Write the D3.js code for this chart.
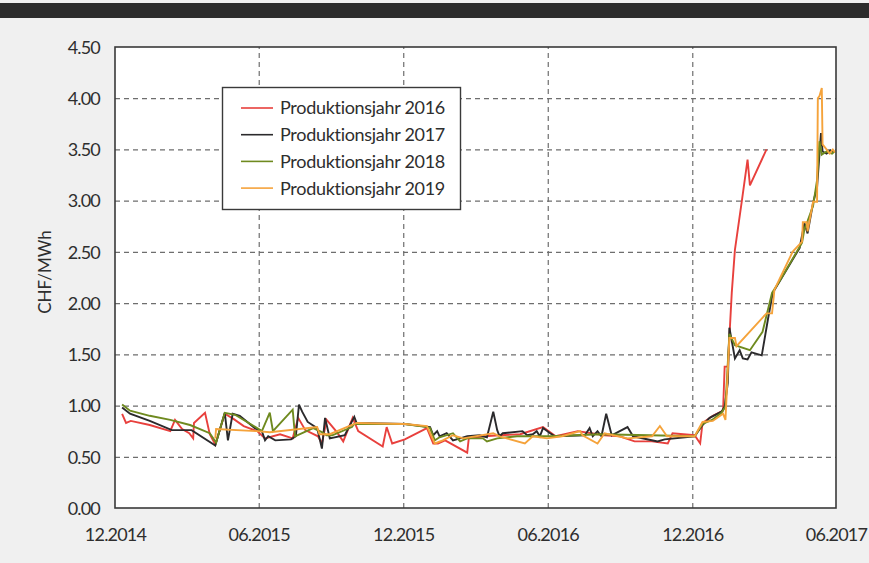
<!DOCTYPE html>
<html><head><meta charset="utf-8">
<script src="https://cdn.jsdelivr.net/npm/d3@7"></script>
<style>
html,body{margin:0;padding:0;background:#efefef;}
svg{display:block;}
text{font-family:Lato,"Noto Sans",sans-serif;fill:#2e2e2e;}
</style></head>
<body><svg id="c" width="869" height="563"></svg>
<script>
const yTicks = [0, 0.5, 1, 1.5, 2, 2.5, 3, 3.5, 4, 4.5];
const xTickDates = ["2014-12-01","2015-06-01","2015-12-01","2016-06-01","2016-12-01","2017-06-01"];
const seriesNames = ["Produktionsjahr 2016","Produktionsjahr 2017","Produktionsjahr 2018","Produktionsjahr 2019"];
const seriesColors = ["#e8403d","#2b2a2c","#6f8a1f","#f5a33b"];

const p2016 = [
["2014-12-10",0.92],["2014-12-15",0.83],["2014-12-21",0.85],["2015-01-14",0.81],["2015-02-09",0.75],["2015-02-15",0.86],
["2015-02-24",0.77],["2015-03-05",0.73],["2015-03-10",0.68],["2015-03-11",0.83],["2015-03-25",0.93],["2015-03-31",0.72],
["2015-04-07",0.62],["2015-04-19",0.92],["2015-04-30",0.87],["2015-05-13",0.80],["2015-05-30",0.75],["2015-06-09",0.68],
["2015-06-28",0.72],["2015-07-14",0.68],["2015-07-21",0.88],["2015-07-30",0.76],["2015-08-15",0.70],["2015-08-20",0.63],
["2015-08-26",0.86],["2015-09-08",0.74],["2015-09-16",0.65],["2015-09-28",0.88],["2015-10-05",0.75],["2015-11-05",0.60],
["2015-11-10",0.79],["2015-11-17",0.63],["2015-12-03",0.67],["2015-12-31",0.78],["2016-01-08",0.63],["2016-01-14",0.63],
["2016-01-23",0.66],["2016-02-20",0.54],["2016-02-22",0.68],["2016-03-13",0.70],["2016-04-01",0.71],["2016-04-27",0.72],
["2016-05-26",0.79],["2016-06-11",0.70],["2016-07-09",0.75],["2016-08-12",0.71],["2016-08-31",0.70],["2016-09-19",0.65],
["2016-10-11",0.65],["2016-10-31",0.63],["2016-11-06",0.73],["2016-12-04",0.71],["2016-12-11",0.63],["2016-12-14",0.83],
["2016-12-27",0.90],["2017-01-09",0.95],["2017-01-11",1.38],["2017-01-15",1.38],["2017-01-20",2.10],["2017-01-24",2.52],
["2017-02-02",3.01],["2017-02-09",3.40],["2017-02-12",3.15],["2017-03-05",3.50]
];
const p2017 = [
["2014-12-10",0.98],["2014-12-20",0.92],["2015-01-14",0.85],["2015-02-11",0.76],["2015-03-08",0.76],["2015-04-07",0.61],
["2015-04-19",0.93],["2015-04-23",0.66],["2015-04-29",0.92],["2015-05-08",0.90],["2015-05-27",0.78],["2015-06-05",0.75],
["2015-06-09",0.66],["2015-06-13",0.70],["2015-06-22",0.66],["2015-07-12",0.67],["2015-07-18",0.70],["2015-07-22",1.01],
["2015-07-26",0.94],["2015-08-02",0.84],["2015-08-14",0.78],["2015-08-20",0.58],["2015-08-24",0.88],["2015-08-30",0.68],
["2015-09-18",0.71],["2015-09-30",0.89],["2015-10-03",0.83],["2015-12-03",0.82],["2016-01-04",0.79],["2016-01-08",0.71],
["2016-01-13",0.75],["2016-01-16",0.70],["2016-01-25",0.73],["2016-02-02",0.66],["2016-02-11",0.68],["2016-02-20",0.70],
["2016-03-07",0.71],["2016-03-16",0.69],["2016-03-24",0.94],["2016-03-29",0.76],["2016-04-01",0.70],["2016-04-05",0.73],
["2016-04-30",0.75],["2016-05-06",0.71],["2016-05-13",0.72],["2016-05-18",0.75],["2016-05-22",0.70],["2016-05-26",0.78],
["2016-06-04",0.73],["2016-06-10",0.70],["2016-07-18",0.71],["2016-07-24",0.78],["2016-07-28",0.70],["2016-08-03",0.75],
["2016-08-08",0.70],["2016-08-14",0.92],["2016-08-21",0.71],["2016-09-10",0.79],["2016-09-17",0.70],["2016-10-18",0.65],
["2016-10-27",0.67],["2016-12-04",0.70],["2016-12-14",0.81],["2016-12-23",0.88],["2017-01-07",0.94],["2017-01-11",0.99],
["2017-01-15",1.22],["2017-01-17",1.76],["2017-01-24",1.46],["2017-01-30",1.54],["2017-02-03",1.46],["2017-02-09",1.45],
["2017-02-14",1.52],["2017-02-27",1.49],["2017-03-07",1.85],["2017-03-13",2.10],["2017-04-16",2.54],["2017-04-22",2.78],
["2017-04-26",2.68],["2017-05-03",2.98],["2017-05-08",3.13],["2017-05-13",3.66],["2017-05-15",3.48],["2017-05-20",3.46],
["2017-05-25",3.49],["2017-05-30",3.47]
];
const p2018 = [
["2014-12-10",1.01],["2014-12-20",0.95],["2015-01-14",0.90],["2015-02-09",0.86],["2015-03-06",0.81],["2015-03-31",0.73],
["2015-04-08",0.64],["2015-04-19",0.93],["2015-05-02",0.91],["2015-05-30",0.78],["2015-06-05",0.75],["2015-06-15",0.93],
["2015-06-19",0.75],["2015-07-14",0.96],["2015-07-17",0.70],["2015-08-09",0.78],["2015-08-20",0.74],["2015-08-26",0.71],
["2015-09-02",0.71],["2015-09-27",0.79],["2015-09-30",0.82],["2015-12-03",0.82],["2015-12-31",0.79],["2016-01-04",0.78],
["2016-01-10",0.66],["2016-01-16",0.69],["2016-02-02",0.73],["2016-02-11",0.65],["2016-02-20",0.68],["2016-03-11",0.68],
["2016-03-16",0.65],["2016-03-29",0.68],["2016-04-23",0.70],["2016-06-04",0.70],["2016-08-06",0.72],["2016-10-08",0.71],
["2016-12-04",0.70],["2016-12-14",0.82],["2016-12-26",0.86],["2017-01-07",0.93],["2017-01-12",0.99],["2017-01-17",1.70],
["2017-01-24",1.59],["2017-02-12",1.54],["2017-02-28",1.72],["2017-03-12",2.10],["2017-03-22",2.22],["2017-04-19",2.59],
["2017-04-22",2.72],["2017-04-26",2.80],["2017-05-03",2.95],["2017-05-08",3.20],["2017-05-11",3.58],["2017-05-14",3.45],
["2017-05-20",3.48],["2017-05-27",3.46],["2017-05-30",3.48]
];
const p2019 = [
["2015-04-07",0.68],["2015-04-08",0.77],["2015-05-30",0.75],["2015-06-15",0.74],["2015-08-14",0.79],["2015-08-17",0.72],
["2015-08-30",0.72],["2015-10-03",0.83],["2015-12-03",0.82],["2015-12-31",0.80],["2016-01-10",0.63],["2016-01-20",0.66],
["2016-02-02",0.71],["2016-02-15",0.68],["2016-03-24",0.73],["2016-04-01",0.70],["2016-05-03",0.63],["2016-05-13",0.70],
["2016-05-31",0.68],["2016-06-19",0.70],["2016-07-12",0.75],["2016-07-15",0.71],["2016-08-03",0.63],["2016-08-12",0.73],
["2016-09-10",0.68],["2016-10-11",0.70],["2016-10-21",0.80],["2016-10-30",0.70],["2016-12-04",0.70],["2016-12-14",0.84],
["2016-12-27",0.85],["2017-01-09",0.92],["2017-01-12",0.86],["2017-01-17",1.66],["2017-01-24",1.66],["2017-01-26",1.58],
["2017-03-05",1.90],["2017-03-12",1.90],["2017-03-15",2.13],["2017-04-07",2.50],["2017-04-19",2.60],["2017-04-20",2.79],
["2017-04-25",2.79],["2017-04-26",2.70],["2017-05-03",2.99],["2017-05-08",2.99],["2017-05-09",4.00],["2017-05-11",4.02],
["2017-05-14",4.10],["2017-05-15",3.55],["2017-05-20",3.50],["2017-05-24",3.46],["2017-05-28",3.50],["2017-05-31",3.47]
];
const allSeries = [p2016, p2017, p2018, p2019];

const parse = d3.timeParse("%Y-%m-%d");
const svg = d3.select("#c");
const M = {left:115, top:47, right:836, bottom:508};

svg.append("rect").attr("x",0).attr("y",0).attr("width",869).attr("height",563).attr("fill","#f0f0f0");
svg.append("rect").attr("x",0).attr("y",3).attr("width",869).attr("height",15).attr("fill","#2c2c2c");
svg.append("rect").attr("x",M.left).attr("y",M.top).attr("width",M.right-M.left).attr("height",M.bottom-M.top).attr("fill","#ffffff");

const x = d3.scaleTime().domain([parse(xTickDates[0]), parse(xTickDates[xTickDates.length-1])]).range([M.left, M.right]);
const y = d3.scaleLinear().domain([0, 4.5]).range([M.bottom, M.top]);

// grid
const gy = svg.append("g").attr("transform",`translate(${M.left},0)`)
  .call(d3.axisLeft(y).tickValues(yTicks.slice(1, -1)).tickSize(-(M.right-M.left)).tickFormat(""));
gy.select(".domain").remove();
gy.selectAll("line").attr("stroke","#6e6e6e").attr("stroke-width",1.2).attr("stroke-dasharray","5,4");
const gx = svg.append("g").attr("transform",`translate(0,${M.bottom})`)
  .call(d3.axisBottom(x).tickValues(xTickDates.slice(1,-1).map(parse)).tickSize(-(M.bottom-M.top)).tickFormat(""));
gx.select(".domain").remove();
gx.selectAll("line").attr("stroke","#6e6e6e").attr("stroke-width",1.2).attr("stroke-dasharray","5,4");

// lines
const line = d3.line().x(d => x(parse(d[0]))).y(d => y(d[1]));
allSeries.forEach((s,i) => {
  svg.append("path").datum(s).attr("d",line).attr("fill","none")
    .attr("stroke",seriesColors[i]).attr("stroke-width",1.9).attr("stroke-linejoin","miter").attr("stroke-miterlimit",3);
});

// frame
svg.append("rect").attr("x",M.left).attr("y",M.top).attr("width",M.right-M.left).attr("height",M.bottom-M.top)
  .attr("fill","none").attr("stroke","#3a3a3a").attr("stroke-width",1.6);

// y axis labels
const ya = svg.append("g").attr("transform",`translate(${M.left-12},0)`)
  .call(d3.axisLeft(y).tickValues(yTicks).tickSize(0).tickFormat(d3.format(".2f")));
ya.select(".domain").remove();
ya.selectAll("text").attr("font-size",18).attr("letter-spacing","-0.8").attr("fill","#2e2e2e")
  .style("font-family","Lato, sans-serif").attr("dy","0.35em");

// x axis labels
const xa = svg.append("g").attr("transform",`translate(0,${M.bottom+17})`)
  .call(d3.axisBottom(x).tickValues(xTickDates.map(parse)).tickSize(0).tickFormat(d3.timeFormat("%m.%Y")));
xa.select(".domain").remove();
xa.selectAll("text").attr("font-size",18).attr("letter-spacing","-0.8").attr("fill","#2e2e2e")
  .style("font-family","Lato, sans-serif");

// y title
svg.append("text").attr("transform","translate(51,272) rotate(-90)").attr("text-anchor","middle")
  .attr("font-size",17).text("CHF/MWh");

// legend
const lg = svg.append("g");
lg.append("rect").attr("x",222.5).attr("y",87.5).attr("width",238).attr("height",122)
  .attr("fill","#ffffff").attr("stroke","#3a3a3a").attr("stroke-width",1.4);
seriesNames.forEach((n,i) => {
  const cy = 108 + i*26.7;
  lg.append("line").attr("x1",241).attr("x2",273).attr("y1",cy).attr("y2",cy)
    .attr("stroke",seriesColors[i]).attr("stroke-width",1.6);
  lg.append("text").attr("x",280).attr("y",cy).attr("dy","0.36em").attr("font-size",18)
    .attr("letter-spacing","-0.3").text(n);
});
</script></body></html>
